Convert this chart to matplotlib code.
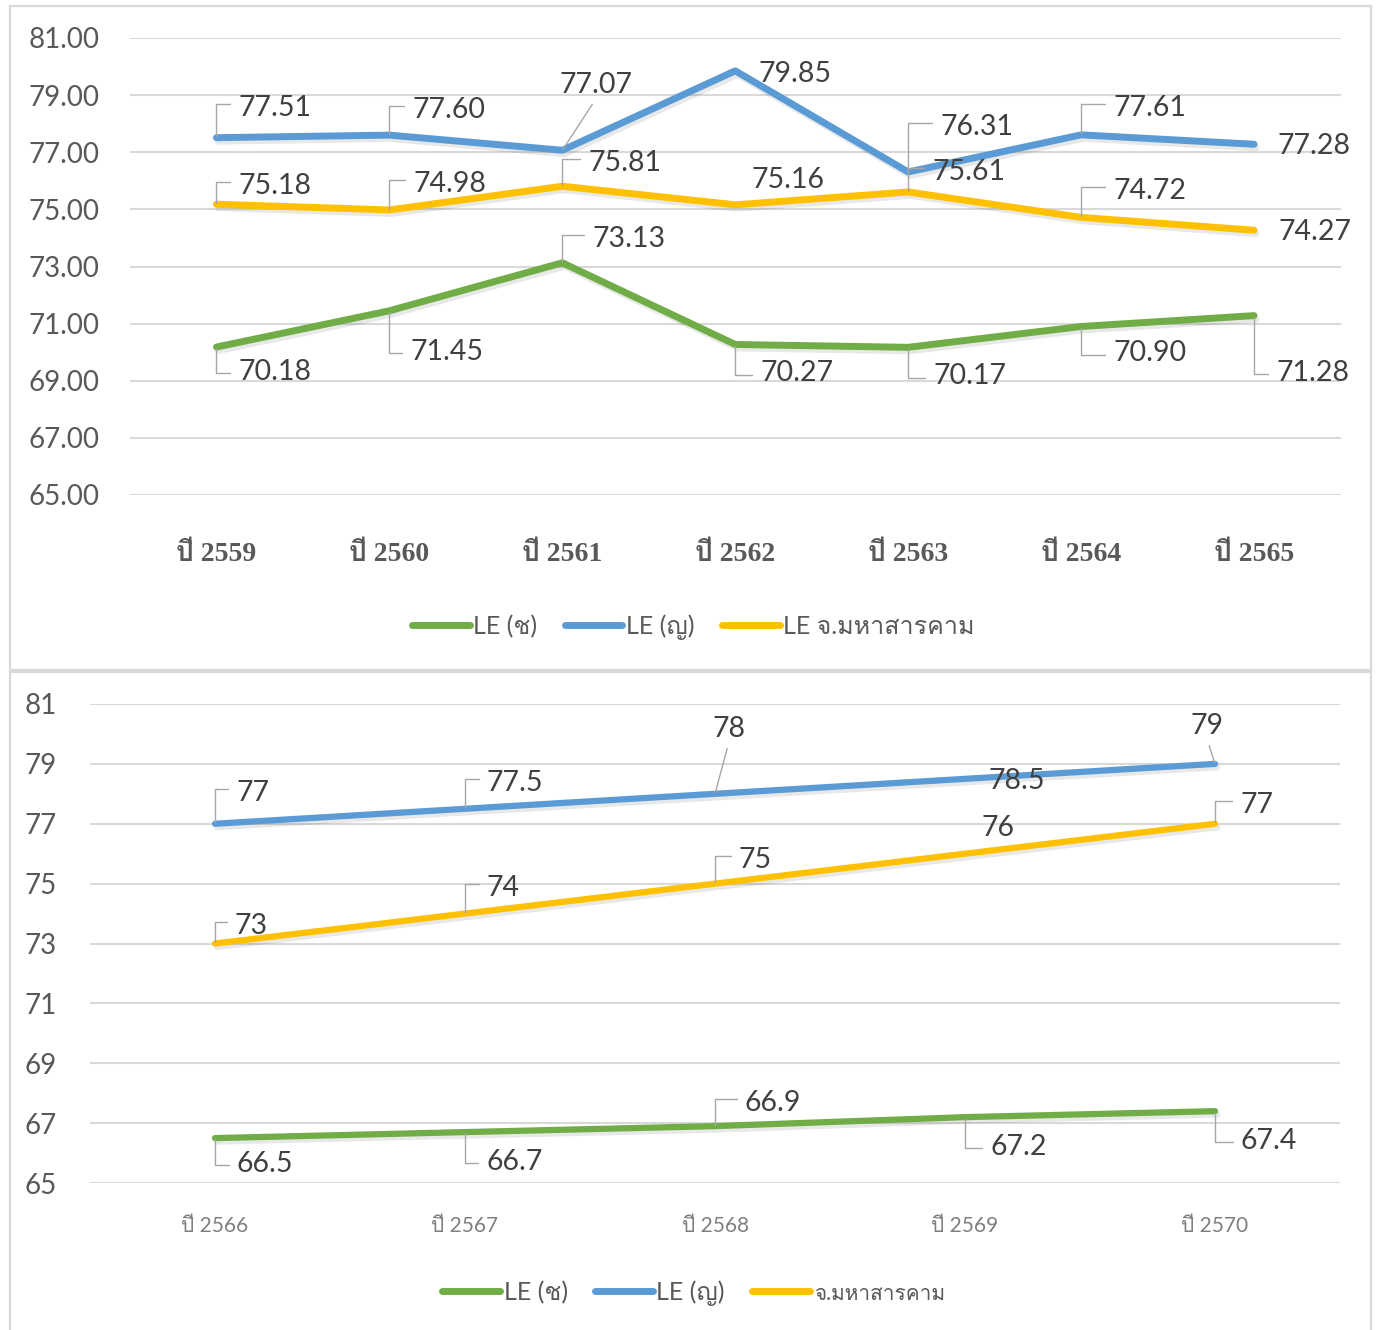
import matplotlib
matplotlib.use('Agg')
import matplotlib.pyplot as plt
import matplotlib.patheffects as pe
from matplotlib import font_manager as fm
from matplotlib.ft2font import FT2Font
from matplotlib.lines import Line2D
from matplotlib.patches import Rectangle

# data
years_top = ['ปี 2559', 'ปี 2560', 'ปี 2561', 'ปี 2562', 'ปี 2563', 'ปี 2564', 'ปี 2565']
male_top = [70.18, 71.45, 73.13, 70.27, 70.17, 70.90, 71.28]
female_top = [77.51, 77.60, 77.07, 79.85, 76.31, 77.61, 77.28]
prov_top = [75.18, 74.98, 75.81, 75.16, 75.61, 74.72, 74.27]

years_bot = ['ปี 2566', 'ปี 2567', 'ปี 2568', 'ปี 2569', 'ปี 2570']
male_bot = [66.5, 66.7, 66.9, 67.2, 67.4]
female_bot = [77, 77.5, 78, 78.5, 79]
prov_bot = [73, 74, 75, 76, 77]

yticks_top = [65, 67, 69, 71, 73, 75, 77, 79, 81]

legend_top = ['LE (ช)', 'LE (ญ)', 'LE จ.มหาสารคาม']
legend_bot = ['LE (ช)', 'LE (ญ)', 'จ.มหาสารคาม']

GREEN = '#70AD47'
BLUE = '#5B9BD5'
GOLD = '#FFC000'

# find a font that has Thai glyphs
thai_fonts = []
for f in fm.fontManager.ttflist:
    try:
        if 0x0E1B in FT2Font(f.fname).get_charmap():
            if f.name not in thai_fonts:
                thai_fonts.append(f.name)
    except Exception:
        pass
serif_thai = [n for n in thai_fonts if n in ('Norasi', 'Tlwg Typo', 'Laksaman', 'TH Sarabun New')]
sans_fam = ['Lato'] + thai_fonts + ['DejaVu Sans']
serif_fam = ['Liberation Serif'] + serif_thai + thai_fonts + ['DejaVu Serif']

plt.rcParams['font.family'] = sans_fam

W, H = 1376, 1330
fig = plt.figure(figsize=(W / 100, H / 100), dpi=100)


def fx(px):
    return px / W


def fy(py):
    return 1 - py / H


# panel borders
for top, bot in [(6, 670), (672, 1332)]:
    fig.patches.append(Rectangle((fx(10), fy(bot)), fx(1361), (bot - top) / H,
                                 transform=fig.transFigure, fill=False,
                                 edgecolor='#D9D9D9', lw=1.6))

ax1 = fig.add_axes([fx(130), fy(495), fx(1210.5), (495 - 38) / H])
ax2 = fig.add_axes([fx(90), fy(1183), fx(1250), (1183 - 704) / H])

shadow = [pe.SimpleLineShadow(offset=(1.5, -2.5), shadow_color='k', alpha=0.09), pe.Normal()]


def label(ax, x, y, txt, dx, dy, kind):
    kw = dict(xy=(x, y), xytext=(dx, dy), textcoords='offset pixels',
              fontsize=20.5, color='#404040', va='center', zorder=5)
    if kind == 'L':
        rel = (0, 0.65) if dy > 0 else (0, 0.45)
        ax.annotate(txt, ha='left',
                    arrowprops=dict(arrowstyle='-', color='#A6A6A6', lw=1,
                                    connectionstyle='angle,angleA=0,angleB=90,rad=0',
                                    relpos=rel, shrinkA=4, shrinkB=1), **kw)
    elif kind == 'D':
        ax.annotate(txt, ha='center',
                    arrowprops=dict(arrowstyle='-', color='#A6A6A6', lw=1,
                                    relpos=(0.5, 0), shrinkA=3, shrinkB=1), **kw)
    elif kind == 'R':
        ax.annotate(txt, ha='left', **kw)
    else:
        ax.annotate(txt, ha='center', **kw)


def style_axes(ax, n, pad_y):
    ax.set_xlim(-0.5, n - 0.5)
    ax.set_ylim(65, 81)
    ax.set_yticks(yticks_top)
    for s in ax.spines.values():
        s.set_visible(False)
    ax.grid(axis='y', color='#D9D9D9', lw=1.5)
    ax.set_axisbelow(True)
    ax.tick_params(axis='both', length=0)
    ax.tick_params(axis='y', labelsize=20, labelcolor='#595959', pad=pad_y)


# ---- top chart
x1 = range(len(years_top))
ax1.plot(x1, male_top, color=GREEN, lw=5, solid_capstyle='round', path_effects=shadow, zorder=3)
ax1.plot(x1, female_top, color=BLUE, lw=5, solid_capstyle='round', path_effects=shadow, zorder=3)
ax1.plot(x1, prov_top, color=GOLD, lw=5, solid_capstyle='round', path_effects=shadow, zorder=3)
style_axes(ax1, len(years_top), 22)
ax1.set_yticklabels([f'{v:.2f}' for v in yticks_top])
ax1.set_xticks(list(x1))
ax1.set_xticklabels(years_top, family=serif_fam, fontweight='bold', fontsize=20, color='#595959')
ax1.tick_params(axis='x', pad=34)

pos_female_top = [(22, 30, 'L'), (23, 25, 'L'), (34, 65, 'D'), (23, -3, 'R'),
                  (32, 45, 'L'), (32, 27, 'L'), (23, -2, 'R')]
pos_prov_top = [(22, 18, 'L'), (24, 26, 'L'), (26, 23, 'L'), (53, 25, 'C'),
                (24, 20, 'L'), (32, 26, 'L'), (24, -2, 'R')]
pos_male_top = [(22, -25, 'L'), (21, -41, 'L'), (30, 24, 'L'), (25, -29, 'L'),
                (25, -29, 'L'), (32, -27, 'L'), (22, -57, 'L')]
for vals, pos in [(female_top, pos_female_top), (prov_top, pos_prov_top), (male_top, pos_male_top)]:
    for i, (v, p) in enumerate(zip(vals, pos)):
        label(ax1, i, v, f'{v:.2f}', *p)

# ---- bottom chart
x2 = range(len(years_bot))
ax2.plot(x2, male_bot, color=GREEN, lw=4.5, solid_capstyle='round', path_effects=shadow, zorder=3)
ax2.plot(x2, female_bot, color=BLUE, lw=4.5, solid_capstyle='round', path_effects=shadow, zorder=3)
ax2.plot(x2, prov_bot, color=GOLD, lw=4.5, solid_capstyle='round', path_effects=shadow, zorder=3)
style_axes(ax2, len(years_bot), 24)
ax2.set_yticklabels([f'{v}' for v in yticks_top])
ax2.set_xticks(list(x2))
ax2.set_xticklabels(years_bot, fontsize=15, color='#7F7F7F')
ax2.tick_params(axis='x', pad=24)

pos_female_bot = [(21, 31, 'L'), (22, 26, 'L'), (14, 65, 'D'), (52, -2, 'C'), (-8, 38, 'D')]
pos_prov_bot = [(20, 18, 'L'), (22, 26, 'L'), (24, 24, 'L'), (33, 26, 'C'), (25, 19, 'L')]
pos_male_bot = [(22, -26, 'L'), (21, -30, 'L'), (30, 23, 'L'), (25, -30, 'L'), (26, -30, 'L')]
for vals, pos in [(female_bot, pos_female_bot), (prov_bot, pos_prov_bot), (male_bot, pos_male_bot)]:
    for i, (v, p) in enumerate(zip(vals, pos)):
        label(ax2, i, v, f'{v:g}', *p)

# ---- legends
def handles():
    return [Line2D([], [], color=c, lw=5, solid_capstyle='round') for c in (GREEN, BLUE, GOLD)]


leg1 = fig.legend(handles(), legend_top, loc='center', bbox_to_anchor=(0.504, fy(627)),
                  ncol=3, frameon=False, fontsize=18, handlelength=2.3, handletextpad=0.15,
                  columnspacing=1.1, labelcolor='#595959')
leg2 = fig.legend(handles(), legend_bot, loc='center', bbox_to_anchor=(0.504, fy(1293)),
                  ncol=3, frameon=False, fontsize=18, handlelength=2.3, handletextpad=0.15,
                  columnspacing=1.1, labelcolor='#595959')
leg2.get_texts()[2].set_fontsize(15)

fig.savefig('out.png', dpi=100)
